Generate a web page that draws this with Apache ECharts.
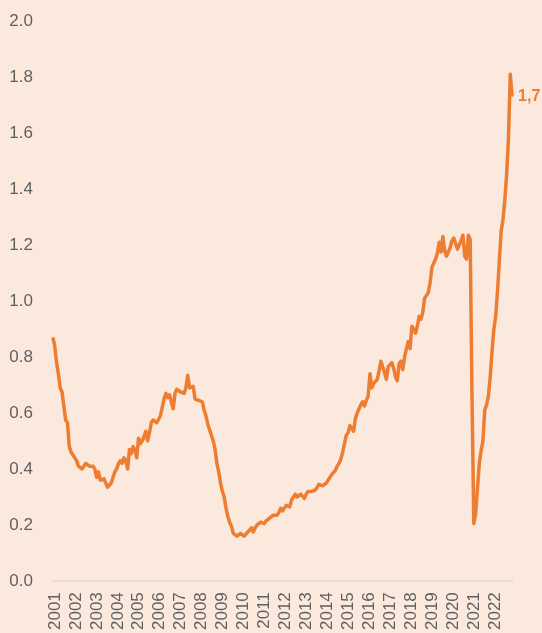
<!DOCTYPE html>
<html>
<head>
<meta charset="utf-8">
<script src="https://cdn.jsdelivr.net/npm/echarts@6/dist/echarts.min.js"></script>
<style>
html,body{margin:0;padding:0;background:#FBE9DE;}
#chart{width:542px;height:633px;}
</style>
</head>
<body>
<div id="chart"></div>
<script>
// Monthly values, Jan 2001 .. Jan 2022
const startYear = 2001;
const v2001 = [0.87, 0.84, 0.78, 0.74, 0.69, 0.675, 0.67, 0.575, 0.565, 0.48, 0.46, 0.45];
const v2002 = [0.44, 0.43, 0.41, 0.41, 0.40, 0.41, 0.42, 0.42, 0.41, 0.415, 0.41, 0.40];
const v2003 = [0.37, 0.39, 0.36, 0.36, 0.365, 0.37, 0.335, 0.34, 0.35, 0.37, 0.39, 0.40];
const v2004 = [0.42, 0.43, 0.42, 0.44, 0.43, 0.40, 0.47, 0.455, 0.48, 0.47, 0.44, 0.51];
const v2005 = [0.49, 0.50, 0.515, 0.535, 0.50, 0.53, 0.565, 0.575, 0.57, 0.565, 0.56, 0.59];
const v2006 = [0.62, 0.65, 0.67, 0.655, 0.665, 0.64, 0.615, 0.67, 0.685, 0.68, 0.675, 0.675];
const v2007 = [0.67, 0.69, 0.735, 0.69, 0.69, 0.695, 0.65, 0.645, 0.645, 0.645, 0.64, 0.61];
const v2008 = [0.59, 0.56, 0.54, 0.52, 0.50, 0.47, 0.42, 0.39, 0.35, 0.32, 0.30, 0.26];
const v2009 = [0.23, 0.21, 0.195, 0.17, 0.175, 0.16, 0.155, 0.17, 0.165, 0.16, 0.16, 0.175];
const v2010 = [0.18, 0.19, 0.175, 0.19, 0.20, 0.195, 0.21, 0.21, 0.205, 0.215, 0.22, 0.225];
const v2011 = [0.23, 0.235, 0.24, 0.235, 0.245, 0.26, 0.25, 0.255, 0.27, 0.265, 0.265, 0.29];
const v2012 = [0.30, 0.31, 0.30, 0.305, 0.31, 0.305, 0.295, 0.31, 0.32, 0.315, 0.32, 0.32];
const v2013 = [0.325, 0.33, 0.345, 0.35, 0.34, 0.345, 0.35, 0.36, 0.37, 0.38, 0.385, 0.395];
const v2014 = [0.41, 0.42, 0.435, 0.46, 0.49, 0.52, 0.53, 0.555, 0.55, 0.535, 0.58, 0.60];
const v2015 = [0.615, 0.63, 0.64, 0.625, 0.645, 0.66, 0.74, 0.69, 0.705, 0.71, 0.72, 0.75];
const v2016 = [0.785, 0.765, 0.745, 0.72, 0.765, 0.765, 0.78, 0.76, 0.73, 0.715, 0.775, 0.785];
const v2017 = [0.755, 0.80, 0.83, 0.855, 0.83, 0.91, 0.90, 0.885, 0.91, 0.945, 0.935, 0.96];
const v2018 = [1.01, 1.005, 1.03, 1.065, 1.12, 1.135, 1.15, 1.17, 1.21, 1.175, 1.23, 1.18];
const v2019 = [1.16, 1.155, 1.19, 1.215, 1.225, 1.22, 1.185, 1.19, 1.215, 1.235, 1.16, 1.15];
const v2020 = [1.235, 1.22, 0.66, 0.205, 0.24, 0.33, 0.42, 0.465, 0.50, 0.61, 0.63, 0.66];
const v2021 = [0.73, 0.82, 0.90, 0.945, 1.035, 1.04, 1.25, 1.29, 1.36, 1.45, 1.58, 1.81];
const v2022 = [1.73];
const lastLabel = '1,7';
const yTicks = [0, 0.2, 0.4, 0.6, 0.8, 1.0, 1.2, 1.4, 1.6, 1.8, 2.0];
const yearTicks = [2001, 2022];

const values = [].concat(v2001, v2002, v2003, v2004, v2005, v2006, v2007, v2008, v2009, v2010,
  v2011, v2012, v2013, v2014, v2015, v2016, v2017, v2018, v2019, v2020, v2021, v2022);
const seriesData = values.map((v, i) => [i, v]);

const labelFont = {color: '#5F5F5F', fontSize: 17, fontFamily: 'Liberation Sans'};

const chart = echarts.init(document.getElementById('chart'), null, {renderer: 'canvas'});
chart.setOption({
  backgroundColor: '#FBE9DE',
  animation: false,
  grid: [
    {left: 52, right: 29, top: 21, bottom: 52},
    {left: 55, right: 47, top: 21, bottom: 52}
  ],
  xAxis: [
    {
      gridIndex: 0, type: 'value', min: -0.5, max: values.length - 0.5,
      axisLine: {show: true, onZero: false, lineStyle: {color: '#E4DAD4', width: 1.5}},
      axisTick: {show: false}, splitLine: {show: false}, axisLabel: {show: false}
    },
    {
      gridIndex: 1, type: 'value', min: yearTicks[0], max: yearTicks[1], interval: 1,
      axisLine: {show: false}, axisTick: {show: false}, splitLine: {show: false},
      axisLabel: Object.assign({rotate: 90, margin: 14, formatter: v => String(v)}, labelFont)
    }
  ],
  yAxis: [
    {
      gridIndex: 0, type: 'value', min: yTicks[0], max: yTicks[yTicks.length - 1], interval: 0.2,
      axisLine: {show: false}, axisTick: {show: false}, splitLine: {show: false},
      axisLabel: Object.assign({margin: 19, formatter: v => v.toFixed(1)}, labelFont)
    },
    {gridIndex: 1, type: 'value', min: 0, max: 2, show: false}
  ],
  series: [{
    type: 'line', xAxisIndex: 0, yAxisIndex: 0, data: seriesData, showSymbol: false,
    lineStyle: {color: '#ED7D31', width: 3.5, join: 'round'},
    endLabel: {
      show: true, formatter: lastLabel, color: '#ED7D31', fontWeight: 'bold',
      fontSize: 16, fontFamily: 'Liberation Sans', distance: 6
    }
  }]
});
</script>
</body>
</html>
